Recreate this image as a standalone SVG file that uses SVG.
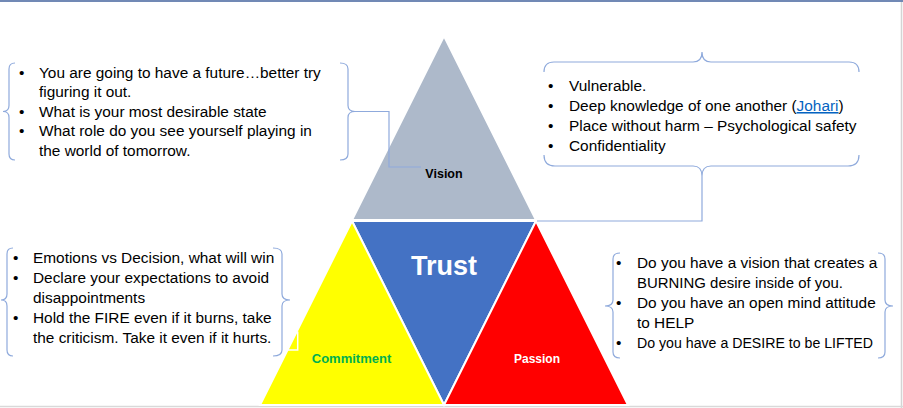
<svg xmlns="http://www.w3.org/2000/svg" width="903" height="408" viewBox="0 0 903 408">
<style>
.t{font-family:"Liberation Sans",Arial,sans-serif;font-size:15.4px;fill:#000}
.brace{fill:none;stroke:#8faadc;stroke-width:1.2}
.conn{fill:none;stroke:#8faadc;stroke-width:1.2}
.tri{stroke:#fff;stroke-width:2;stroke-linejoin:miter}
.lbl{font-family:"Liberation Sans",Arial,sans-serif;font-weight:bold;text-anchor:middle}
</style>
<rect x="0" y="0" width="903" height="408" fill="#fff"/>
<line x1="0" y1="1" x2="903" y2="1" stroke="#7189b5" stroke-width="2"/>
<line x1="901.5" y1="2" x2="901.5" y2="408" stroke="#d4d4d4" stroke-width="1.5"/>
<line x1="0" y1="406.5" x2="903" y2="406.5" stroke="#d9d9d9" stroke-width="1.5"/>

<g id="vision">
<polygon class="tri" points="444,36 352,220 536,220" fill="#adb9ca"/>
<text class="lbl" x="444" y="177.5" font-size="12.5" fill="#000">Vision</text>
</g>
<g id="trust">
<polygon class="tri" points="352,221 536,221 444,405" fill="#4472c4"/>
<text class="lbl" x="444" y="275" font-size="27" fill="#fff">Trust</text>
</g>
<g id="commitment">
<polygon class="tri" points="352,221 260,405 444,405" fill="#ffff00"/>
<text class="lbl" x="351.5" y="362.5" font-size="13" fill="#00b050">Commitment</text>
</g>
<g id="passion">
<polygon class="tri" points="536,221 444,405 628,405" fill="#ff0000"/>
<text class="lbl" x="537" y="362.5" font-size="12" fill="#fff">Passion</text>
</g>

<g id="connectors">
<path class="conn" d="M355,111.5 H389 V167 H421"/>
<path class="conn" d="M702,176 V221 H537"/>
<path d="M297.7,331.5 V350 H286.5" fill="none" stroke="#fff" stroke-width="1.5"/>
</g>

<g id="vision-notes">
<path class="brace" d="M15,63 Q9,63 9,69 V105.5 Q9,111.5 3,111.5 Q9,111.5 9,117.5 V154 Q9,160 15,160"/>
<path class="brace" d="M340,63 Q348,63 348,69 V105.5 Q348,111.5 355,111.5 Q348,111.5 348,117.5 V154 Q348,160 340,160"/>
<text class="t" x="19" y="77.5">•</text>
<text class="t" x="39" y="77.5">You are going to have a future…better try</text>
<text class="t" x="39" y="96.5">figuring it out.</text>
<text class="t" x="19" y="116.5">•</text>
<text class="t" x="39" y="116.5">What is your most desirable state</text>
<text class="t" x="19" y="136">•</text>
<text class="t" x="39" y="136">What role do you see yourself playing in</text>
<text class="t" x="39" y="156">the world of tomorrow.</text>
</g>

<g id="trust-notes">
<path class="brace" d="M544,72 Q544,62 554,62 H693 Q702,62 702,52 Q702,62 711,62 H849 Q859,62 859,72"/>
<path class="brace" d="M544,155 Q544,166 555,166 H693 Q702,166 702,176 Q702,166 711,166 H848 Q859,166 859,155"/>
<text class="t" x="548" y="91">•</text>
<text class="t" x="569" y="91">Vulnerable.</text>
<text class="t" x="548" y="111">•</text>
<text class="t" x="569" y="111">Deep knowledge of one another (<tspan fill="#0563c1" text-decoration="underline">Johari</tspan>)</text>
<text class="t" x="548" y="131">•</text>
<text class="t" x="569" y="131">Place without harm – Psychological safety</text>
<text class="t" x="548" y="151">•</text>
<text class="t" x="569" y="151">Confidentiality</text>
</g>

<g id="commitment-notes">
<path class="brace" d="M13,248 Q7,248 7,254 V294 Q7,300 1,300 Q7,300 7,306 V350 Q7,356 13,356"/>
<path class="brace" d="M273,248 Q282,248 282,254 V294 Q282,300 290,300 Q282,300 282,306 V350 Q282,356 273,356"/>
<text class="t" x="13" y="263">•</text>
<text class="t" x="33" y="263">Emotions vs Decision, what will win</text>
<text class="t" x="13" y="283">•</text>
<text class="t" x="33" y="283">Declare your expectations to avoid</text>
<text class="t" x="33" y="303">disappointments</text>
<text class="t" x="13" y="323">•</text>
<text class="t" x="33" y="323">Hold the FIRE even if it burns, take</text>
<text class="t" x="33" y="343">the criticism. Take it even if it hurts.</text>
</g>

<g id="passion-notes">
<path class="brace" d="M620,253 Q613,253 613,259 V300 Q613,306 605,306 Q613,306 613,312 V352 Q613,358 620,358"/>
<path class="brace" d="M878,253 Q885,253 885,259 V300 Q885,306 893,306 Q885,306 885,312 V352 Q885,358 878,358"/>
<text class="t" x="616" y="268">•</text>
<text class="t" x="637" y="268">Do you have a vision that creates a</text>
<text class="t" x="637" y="288" textLength="206" lengthAdjust="spacingAndGlyphs">BURNING desire inside of you.</text>
<text class="t" x="616" y="308">•</text>
<text class="t" x="637" y="308">Do you have an open mind attitude</text>
<text class="t" x="637" y="328">to HELP</text>
<text class="t" x="616" y="348">•</text>
<text class="t" x="637" y="348" textLength="236" lengthAdjust="spacingAndGlyphs">Do you have a DESIRE to be LIFTED</text>
</g>
</svg>
